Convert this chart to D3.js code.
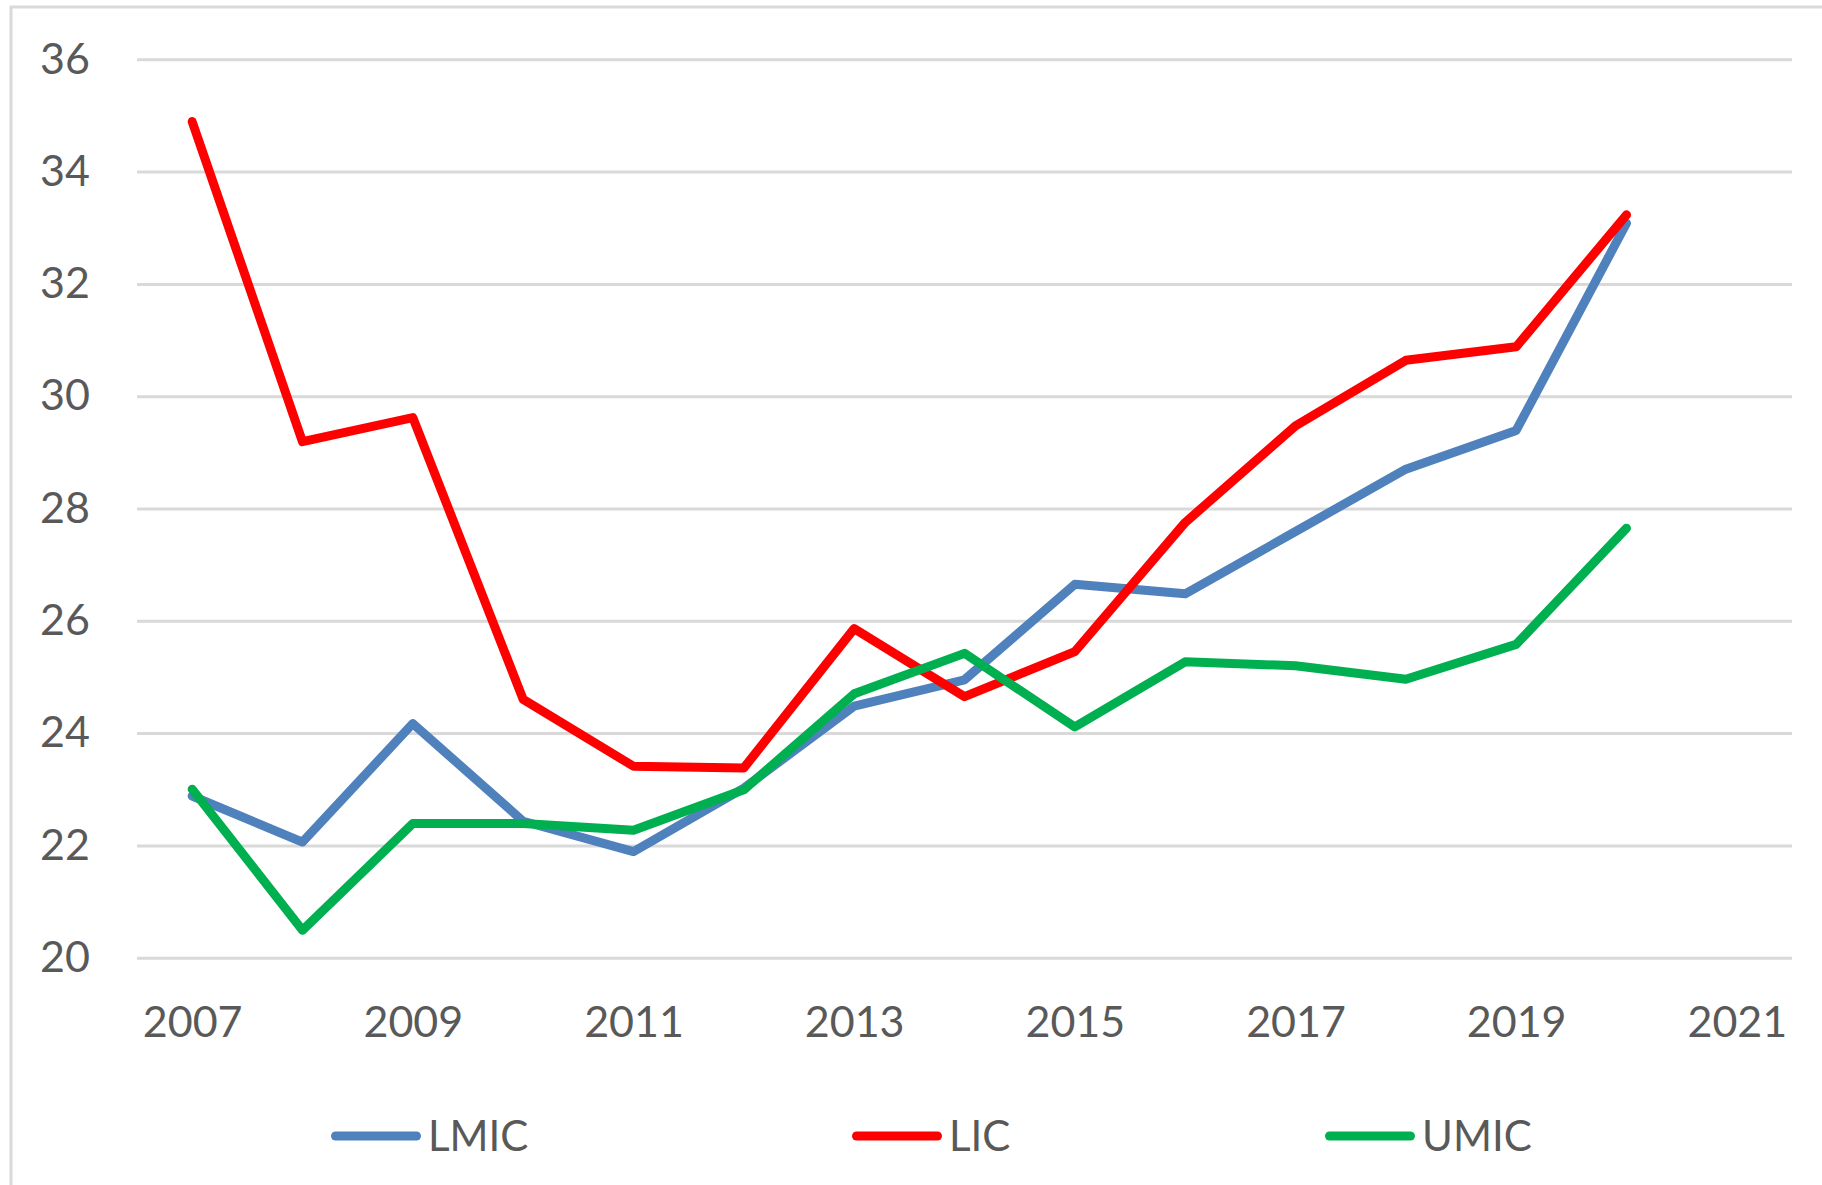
<!DOCTYPE html>
<html>
<head>
<meta charset="utf-8">
<script src="https://cdn.jsdelivr.net/npm/d3@7"></script>
<style>
  html, body { margin: 0; padding: 0; background: #fff; }
  svg { display: block; }
</style>
</head>
<body>
<svg id="chart" width="1822" height="1185"></svg>
<script>
// ---- data ----
const years = [2007, 2008, 2009, 2010, 2011, 2012, 2013, 2014, 2015, 2016, 2017, 2018, 2019, 2020];
const lmic = [22.88, 22.06, 24.17, 22.43, 21.89, 23.02, 24.48, 24.95, 26.65, 26.48, 27.59, 28.70, 29.39, 33.08];
const lic  = [34.89, 29.19, 29.62, 24.60, 23.41, 23.38, 25.86, 24.65, 25.45, 27.75, 29.47, 30.64, 30.88, 33.23];
const umic = [23.00, 20.49, 22.39, 22.39, 22.27, 22.99, 24.70, 25.42, 24.11, 25.27, 25.20, 24.96, 25.58, 27.65];
const seriesNames = ["LMIC", "LIC", "UMIC"];
const seriesColors = ["#4F81BD", "#FF0000", "#00B050"];
const yTicks = [20, 22, 24, 26, 28, 30, 32, 34, 36];
const xTicks = [2007, 2009, 2011, 2013, 2015, 2017, 2019, 2021];

const seriesValues = [lmic, lic, umic];
const svg = d3.select("#chart");
const textColor = "#595959";
const font = "Lato, 'Open Sans', sans-serif";

// outer frame
svg.append("rect")
  .attr("x", 11).attr("y", 7)
  .attr("width", 1830).attr("height", 1200)
  .attr("fill", "none").attr("stroke", "#d9d9d9").attr("stroke-width", 3);

const x = d3.scaleLinear().domain([2006.5, 2021.5]).range([137, 1792]);
const y = d3.scaleLinear().domain([20, 36]).range([957.7, 59.3]);

// y axis with gridlines
const gy = svg.append("g")
  .attr("transform", `translate(${x(2006.5)},0)`)
  .call(d3.axisLeft(y).tickValues(yTicks).tickSize(-(x(2021.5) - x(2006.5))).tickPadding(47).tickFormat(d3.format("d")));
gy.select(".domain").remove();
gy.selectAll(".tick line").attr("stroke", "#d9d9d9").attr("stroke-width", 3);
gy.selectAll(".tick text")
  .attr("fill", textColor).style("font-family", font).style("font-size", "43px");

// x axis labels
const gx = svg.append("g")
  .attr("transform", `translate(0,${y(20)})`)
  .call(d3.axisBottom(x).tickValues(xTicks).tickSize(0).tickFormat(d3.format("d")));
gx.select(".domain").remove();
gx.selectAll(".tick text")
  .attr("y", 64).attr("dy", "0.36em")
  .attr("fill", textColor).style("font-family", font).style("font-size", "43px");

// lines
const line = d3.line().x((d, i) => x(years[i])).y(d => y(d));
seriesValues.forEach((vals, k) => {
  svg.append("path")
    .datum(vals)
    .attr("d", line)
    .attr("fill", "none")
    .attr("stroke", seriesColors[k])
    .attr("stroke-width", 9)
    .attr("stroke-linejoin", "round")
    .attr("stroke-linecap", "round");
});

// legend
const legendX = [331, 852, 1325];
const legendY = 1136;
seriesNames.forEach((name, k) => {
  const g = svg.append("g").attr("transform", `translate(${legendX[k]},${legendY})`);
  g.append("line")
    .attr("x1", 4.5).attr("x2", 85.5).attr("y1", 0).attr("y2", 0)
    .attr("stroke", seriesColors[k]).attr("stroke-width", 9).attr("stroke-linecap", "round");
  g.append("text")
    .attr("x", 97).attr("y", 0).attr("dy", "0.36em")
    .attr("fill", textColor).style("font-family", font).style("font-size", "42px")
    .text(name);
});
</script>
</body>
</html>
